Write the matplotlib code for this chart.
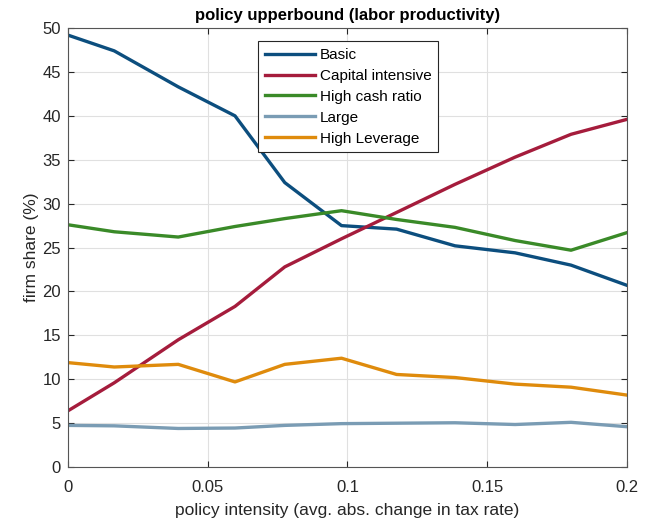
import matplotlib
matplotlib.use("Agg")
import matplotlib.pyplot as plt

plt.rcParams['font.family'] = ['Liberation Sans', 'DejaVu Sans']

# policy intensity (x) and firm shares (%)
intensity = [0, 0.0166, 0.0395, 0.0598, 0.0776, 0.0979, 0.1176, 0.1385, 0.16, 0.18, 0.2]
basic = [49.2, 47.4, 43.3, 40.0, 32.4, 27.5, 27.1, 25.2, 24.4, 23.0, 20.7]
capital = [6.4, 9.6, 14.5, 18.3, 22.8, 26.0, 29.0, 32.2, 35.3, 37.9, 39.6]
cash = [27.6, 26.8, 26.2, 27.4, 28.3, 29.2, 28.2, 27.3, 25.8, 24.7, 26.7]
large = [4.75, 4.7, 4.4, 4.45, 4.75, 4.95, 5.0, 5.05, 4.85, 5.1, 4.6]
leverage = [11.9, 11.4, 11.7, 9.7, 11.7, 12.4, 10.55, 10.2, 9.45, 9.1, 8.2]

series = [
    ("Basic", basic, "#0C4E7E"),
    ("Capital intensive", capital, "#A51C3C"),
    ("High cash ratio", cash, "#3A8A28"),
    ("Large", large, "#7A9CB4"),
    ("High Leverage", leverage, "#DF8B0C"),
]

fig = plt.figure(figsize=(6.46, 5.29), dpi=100)
ax = fig.add_axes([0.105, 0.117, 0.8655, 0.830])

for name, vals, col in series:
    ax.plot(intensity, vals, color=col, linewidth=2.4, label=name)

ax.set_xlim(0, 0.2)
ax.set_ylim(0, 50)
ax.set_xticks([0, 0.05, 0.1, 0.15, 0.2])
ax.set_xticklabels(["0", "0.05", "0.1", "0.15", "0.2"])
ax.set_yticks(range(0, 51, 5))
ax.grid(True, color="#e0e0e0", linewidth=0.8)
ax.set_axisbelow(True)
ax.tick_params(direction="in", top=True, right=True, labelsize=12,
               colors="#262626", length=4)
ax.tick_params(axis="x", pad=9)
ax.tick_params(axis="y", pad=5)
for s in ax.spines.values():
    s.set_color("#555555")
    s.set_linewidth(0.8)

ax.set_title("policy upperbound (labor productivity)", fontsize=12,
             fontweight="bold", pad=6)
ax.set_xlabel("policy intensity (avg. abs. change in tax rate)", fontsize=12.5,
              color="#262626", labelpad=6)
ax.set_ylabel("firm share (%)", fontsize=12.5, color="#262626", labelpad=2)

leg = ax.legend(loc="upper left", bbox_to_anchor=(0.34, 0.97), fontsize=11,
                fancybox=False, framealpha=1, edgecolor="#262626",
                handlelength=3.3, borderpad=0.45, labelspacing=0.45,
                handletextpad=0.3, borderaxespad=0)
leg.get_frame().set_linewidth(0.8)

fig.savefig("out.png", dpi=100)
